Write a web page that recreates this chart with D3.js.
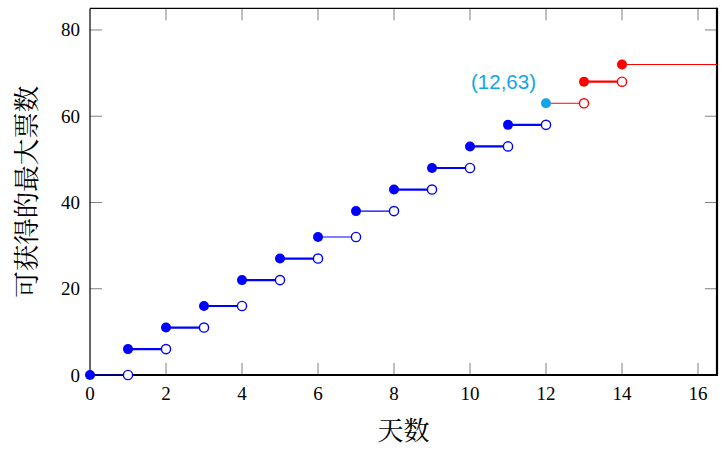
<!DOCTYPE html>
<html><head><meta charset="utf-8">
<script src="https://cdn.jsdelivr.net/npm/d3@7"></script>
<style>body{margin:0;background:#fff}</style>
</head><body>
<svg id="chart" width="726" height="450"></svg>
<script>
// Data
const days  = [0, 1, 2, 3, 4, 5, 6, 7, 8, 9, 10, 11, 12, 13, 14];
const votes = [0, 6, 11, 16, 22, 27, 32, 38, 43, 48, 53, 58, 63, 68, 72];
const xTicks = [0, 2, 4, 6, 8, 10, 12, 14, 16];
const yTicks = [0, 20, 40, 60, 80];
const xLabel = "天数";
const yLabel = "可获得的最大票数";
const highlightDay = 12;
const annotation = "(12,63)";
// style groups (which segments are drawn thin, which are red)
const thinSegments = [0, 6, 7, 12, 14];
const redFrom = 12;

const svg = d3.select("#chart");
const W = 726, H = 450;
const m = {left: 90, right: 9, top: 8.4, bottom: 75};
const x = d3.scaleLinear().domain([0, 16.5]).range([m.left, W - m.right]);
const y = d3.scaleLinear().domain([0, 85]).range([H - m.bottom, m.top]);
const serif = "'Liberation Serif','Times New Roman',serif";
const cjk = "'Noto Serif CJK SC','Noto Sans CJK SC',serif";
const BLUE = "#0000ff", RED = "#ff0000", CYAN = "#12a6e6";

svg.append("defs").append("clipPath").attr("id","clip")
  .append("rect").attr("x", x(0)).attr("y", y(85)).attr("width", x(16.5)-x(0)).attr("height", y(0)-y(85));

// ticks (inward, mirrored)
const tl = 12;
const tg = svg.append("g").attr("stroke", "#808080").attr("stroke-width", 1);
xTicks.forEach(t => {
  if (t === 0) return;
  tg.append("line").attr("x1", x(t)).attr("x2", x(t)).attr("y1", y(0)).attr("y2", y(0)-tl);
  tg.append("line").attr("x1", x(t)).attr("x2", x(t)).attr("y1", y(85)).attr("y2", y(85)+tl);
});
yTicks.forEach(t => {
  if (t === 0) return;
  tg.append("line").attr("x1", x(0)).attr("x2", x(0)+tl).attr("y1", y(t)).attr("y2", y(t));
  tg.append("line").attr("x1", x(16.5)).attr("x2", x(16.5)-tl).attr("y1", y(t)).attr("y2", y(t));
});

// frame
const fg = svg.append("g").attr("stroke", "#000").attr("fill", "none");
fg.append("line").attr("x1", x(0)).attr("x2", x(16.5)).attr("y1", y(85)).attr("y2", y(85)).attr("stroke-width", 1.2);
fg.append("line").attr("x1", x(0)).attr("x2", x(0)).attr("y1", y(85)).attr("y2", y(0)).attr("stroke-width", 1.2);
fg.append("line").attr("x1", x(0)).attr("x2", x(16.5)+1).attr("y1", y(0)).attr("y2", y(0)).attr("stroke-width", 2.2);
fg.append("line").attr("x1", x(16.5)).attr("x2", x(16.5)).attr("y1", y(85)-0.6).attr("y2", y(0)).attr("stroke-width", 2.2);

// tick labels
const xl = svg.append("g").attr("font-family", serif).attr("font-size", 19).attr("fill", "#000");
xTicks.forEach(t => xl.append("text").attr("x", x(t)).attr("y", y(0) + 25).attr("text-anchor", "middle").text(t));
yTicks.forEach(t => xl.append("text").attr("x", x(0) - 10).attr("y", y(t) + 6.5).attr("text-anchor", "end").text(t));

// axis titles
svg.append("text").attr("x", (x(0)+x(16.5))/2).attr("y", 440).attr("text-anchor", "middle")
  .attr("font-family", cjk).attr("font-size", 26).attr("fill", "#000").text(xLabel);
svg.append("text").attr("transform", `translate(36,${(y(0)+y(85))/2}) rotate(-90)`).attr("text-anchor", "middle")
  .attr("font-family", cjk).attr("font-size", 26.5).attr("fill", "#000").text(yLabel);

// step segments
const segs = days.map((d, i) => ({
  i, x0: d, x1: i === days.length - 1 ? 20 : days[i] + 1, v: votes[i],
  color: d >= redFrom ? RED : BLUE,
  w: thinSegments.includes(i) ? 1.1 : 2.2,
  open: i < days.length - 1
}));
const pg = svg.append("g");
pg.append("g").attr("clip-path", "url(#clip)").selectAll("line").data(segs).join("line")
  .attr("x1", d => x(d.x0)).attr("x2", d => x(d.x1))
  .attr("y1", d => y(d.v)).attr("y2", d => y(d.v))
  .attr("stroke", d => d.color).attr("stroke-width", d => d.w);
pg.selectAll("circle.open").data(segs.filter(d => d.open)).join("circle").attr("class", "open")
  .attr("cx", d => x(d.x1)).attr("cy", d => y(d.v)).attr("r", 4.6)
  .attr("fill", "#fff").attr("stroke", d => d.color).attr("stroke-width", 1.4);
pg.selectAll("circle.fill").data(segs).join("circle").attr("class", "fill")
  .attr("cx", d => x(d.x0)).attr("cy", d => y(d.v)).attr("r", 5)
  .attr("fill", d => d.x0 === highlightDay ? CYAN : d.color);

// annotation
const hi = days.indexOf(highlightDay);
svg.append("text").attr("x", x(highlightDay) - 10).attr("y", y(votes[hi]) - 14).attr("text-anchor", "end")
  .attr("font-family", "'Liberation Sans',Arial,sans-serif").attr("font-size", 20.5).attr("fill", CYAN).text(annotation);
</script>
</body></html>
